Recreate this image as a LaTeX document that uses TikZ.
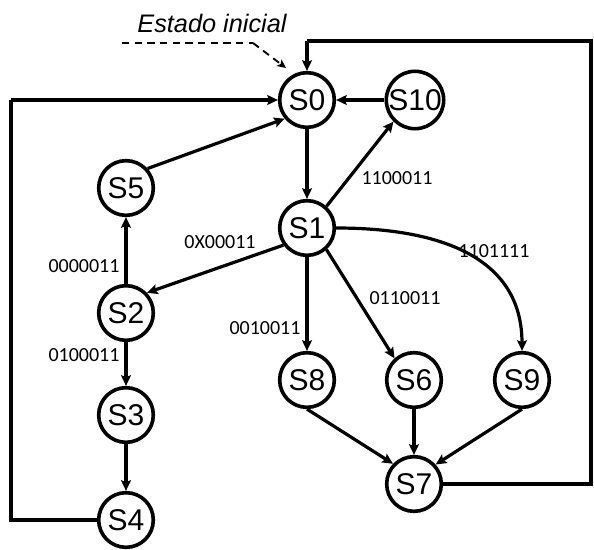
\documentclass[tikz,border=0pt]{standalone}
\usepackage{fontspec}
\setmainfont{Liberation Sans}
\newfontfamily\condfont{Carlito}
\usepackage{tikz}
\usetikzlibrary{arrows.meta}

\tikzset{
  state/.style={draw, circle, line width=2.7pt, minimum size=41pt, inner sep=0pt,
    font=\fontsize{22.5}{22.5}\selectfont},
  trans/.style={line width=2.4pt, -{Stealth[length=8pt,width=7.5pt,inset=1.5pt]}},
  wire/.style={line width=2.4pt},
  cond/.style={font=\condfont\fontsize{15}{15}\selectfont, inner sep=0.75pt},
}

\begin{document}
\begin{tikzpicture}[x=0.75pt,y=0.75pt,yscale=-1,xscale=1]
\useasboundingbox (0,0) rectangle (594,550);

%States
\node[state] (s0) at (307,100) {S0};
\node[state] (s10) at (415,100) {S10};
\node[state] (s5) at (126,188) {S5};
\node[state] (s1) at (307,228) {S1};
\node[state] (s2) at (126,313) {S2};
\node[state] (s3) at (126,415) {S3};
\node[state] (s4) at (126,520) {S4};
\node[state] (s8) at (307,380) {S8};
\node[state] (s6) at (414,380) {S6};
\node[state] (s9) at (522,380) {S9};
\node[state] (s7) at (414,484) {S7};

% Text Node
\node[font=\itshape\fontsize{19}{19}\selectfont, inner sep=0.75pt] (ini) at (212,23) {Estado inicial};
\coordinate (iniA) at (122,43);
\coordinate (iniB) at (253,43);
\coordinate (iniC) at (286,68);
\draw [line width=1.4pt, dash pattern={on 5.5pt off 4pt}] (iniA) -- (iniB);
\draw [line width=1.4pt, dash pattern={on 5.5pt off 4pt}, -{Stealth[length=6.5pt,width=6pt,inset=1.5pt]}] (iniB) -- (iniC);

%Straight Lines
\draw [trans] (s0) -- (s1);
\draw [trans] (s10) -- (s0);
\draw [trans] (s5.42) -- (s0.220);
\draw [trans] (s1.48) -- (s10.225);
\draw [trans] (s1.216) -- (s2.44);
\draw [trans] (s2) -- (s5);
\draw [trans] (s2) -- (s3);
\draw [trans] (s3) -- (s4);
\draw [trans] (s1) -- (s8);
\draw [trans] (s1.-48) -- (s6.132);
%Curve Lines
\draw [trans] (s1.east) .. controls (445,228) and (522,260) .. (s9.north);
\draw [trans] (s8.south) -- (s7.136);
\draw [trans] (s6) -- (s7);
\draw [trans] (s9.south) -- (s7.42);

%Loops back to S0
\coordinate (rb) at (591,484);
\coordinate (rt) at (591,41);
\coordinate (top) at (307,41);
\draw [wire] (s7.east) -- (rb) -- (rt) -- (top);
\draw [trans] (top) -- (s0.north);
\coordinate (lb) at (11,520);
\coordinate (lt) at (11,100);
\draw [wire] (s4.west) -- (lb) -- (lt);
\draw [trans] (lt) -- (s0.west);

% Text Node
\node[cond] (c10) at (397,178) {1100011};
\node[cond] (c2) at (220,242) {0X00011};
\node[cond] (c5) at (84,266) {0000011};
\node[cond] (c3) at (84,355) {0100011};
\node[cond] (c8) at (265,328) {0010011};
\node[cond] (c6) at (405,298) {0110011};
\node[cond] (c9) at (494,251) {1101111};

\end{tikzpicture}
\end{document}
